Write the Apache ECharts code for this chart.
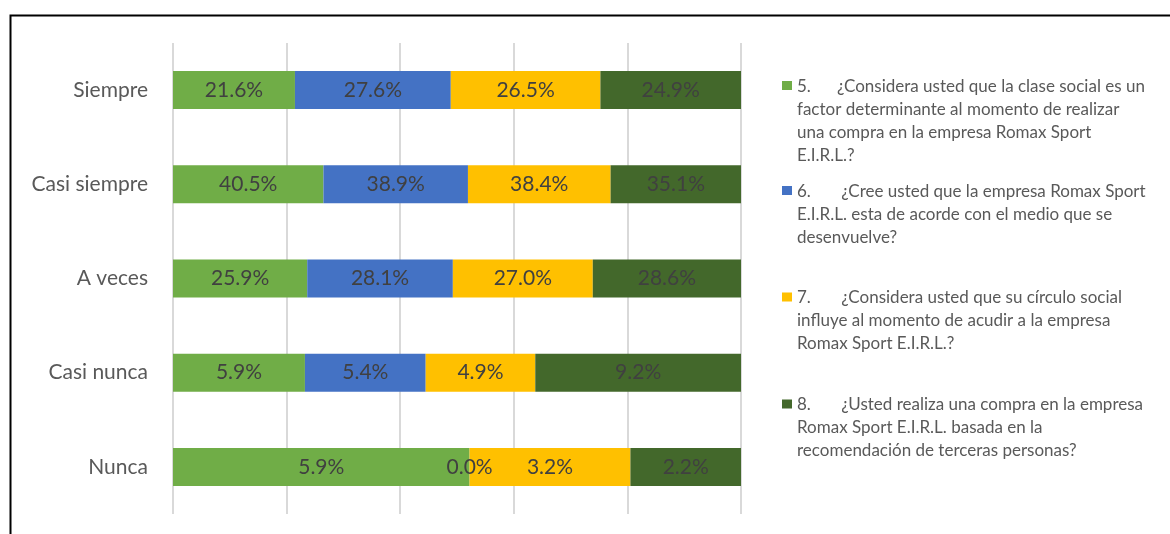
<!DOCTYPE html>
<html>
<head>
<meta charset="utf-8">
<script src="https://cdn.jsdelivr.net/npm/echarts@6/dist/echarts.min.js"></script>
<style>html,body{margin:0;padding:0;background:#fff}#c{width:1170px;height:534px}</style>
</head>
<body>
<div id="c"></div>
<script>
var categories = ['Siempre', 'Casi siempre', 'A veces', 'Casi nunca', 'Nunca'];
var q5 = [21.6, 40.5, 25.9, 5.9, 5.9];
var q6 = [27.6, 38.9, 28.1, 5.4, 0.0];
var q7 = [26.5, 38.4, 27.0, 4.9, 3.2];
var q8 = [24.9, 35.1, 28.6, 9.2, 2.2];
var seriesNames = [
  '5.      ¿Considera usted que la clase social es un\nfactor determinante al momento de realizar\nuna compra en la empresa Romax Sport\nE.I.R.L.?',
  '6.       ¿Cree usted que la empresa Romax Sport\nE.I.R.L. esta de acorde con el medio que se\ndesenvuelve?',
  '7.       ¿Considera usted que su círculo social\ninfluye al momento de acudir a la empresa\nRomax Sport E.I.R.L.?',
  '8.       ¿Usted realiza una compra en la empresa\nRomax Sport E.I.R.L. basada en la\nrecomendación de terceras personas?'
];
var xTicks = [0, 20, 40, 60, 80, 100];

var colors = ['#70AD47', '#4472C4', '#FFC000', '#43682B'];
var raw = [q5, q6, q7, q8];
var totals = categories.map(function (_, i) { return raw.reduce(function (s, a) { return s + a[i]; }, 0); });

var FONT = 'Lato';
var series = raw.map(function (arr, k) {
  return {
    name: seriesNames[k],
    type: 'bar',
    stack: 'total',
    barWidth: 38,
    itemStyle: { color: colors[k] },
    label: {
      show: true,
      position: 'inside',
      fontFamily: FONT,
      fontSize: 21,
      color: '#404040',
      formatter: function (p) { return arr[p.dataIndex].toFixed(1) + '%'; }
    },
    data: arr.map(function (v, i) { return v / totals[i] * 100; })
  };
});

var firstLineCenters = [86.5, 191.5, 298, 405];
var LH = 23;
var legends = seriesNames.map(function (n, k) {
  var lines = n.split('\n').length;
  var h = lines * LH;
  return {
    data: [n],
    orient: 'vertical',
    left: 782,
    top: firstLineCenters[k] - LH / 2,
    itemWidth: 10,
    itemHeight: h,
    itemGap: 0,
    padding: 0,
    icon: 'path://M0,0L0,' + h + 'M0,6L10,6L10,15L0,15Z',
    itemStyle: { borderWidth: 0 },
    selectedMode: false,
    textStyle: {
      fontFamily: FONT,
      fontSize: 17,
      color: '#595959',
      lineHeight: LH
    }
  };
});

var chart = echarts.init(document.getElementById('c'));
chart.setOption({
  animation: false,
  color: colors,
  legend: legends,
  grid: { left: 173, right: 429, top: 43, bottom: 20, containLabel: false },
  xAxis: {
    type: 'value', min: xTicks[0], max: xTicks[xTicks.length - 1], interval: 20,
    axisLabel: { show: false }, axisLine: { show: false }, axisTick: { show: false },
    splitLine: { show: true, lineStyle: { color: '#d9d9d9', width: 2 } }
  },
  yAxis: {
    type: 'category', data: categories, inverse: true,
    axisLine: { show: false }, axisTick: { show: false },
    axisLabel: { fontFamily: FONT, fontSize: 21, color: '#595959', margin: 25 }
  },
  series: series,
  graphic: [{
    type: 'rect', left: 8, top: 13, silent: true,
    shape: { x: 0, y: 0, width: 1300, height: 700 },
    style: { fill: 'none', stroke: '#000', lineWidth: 2 }
  }]
});
</script>
</body>
</html>
